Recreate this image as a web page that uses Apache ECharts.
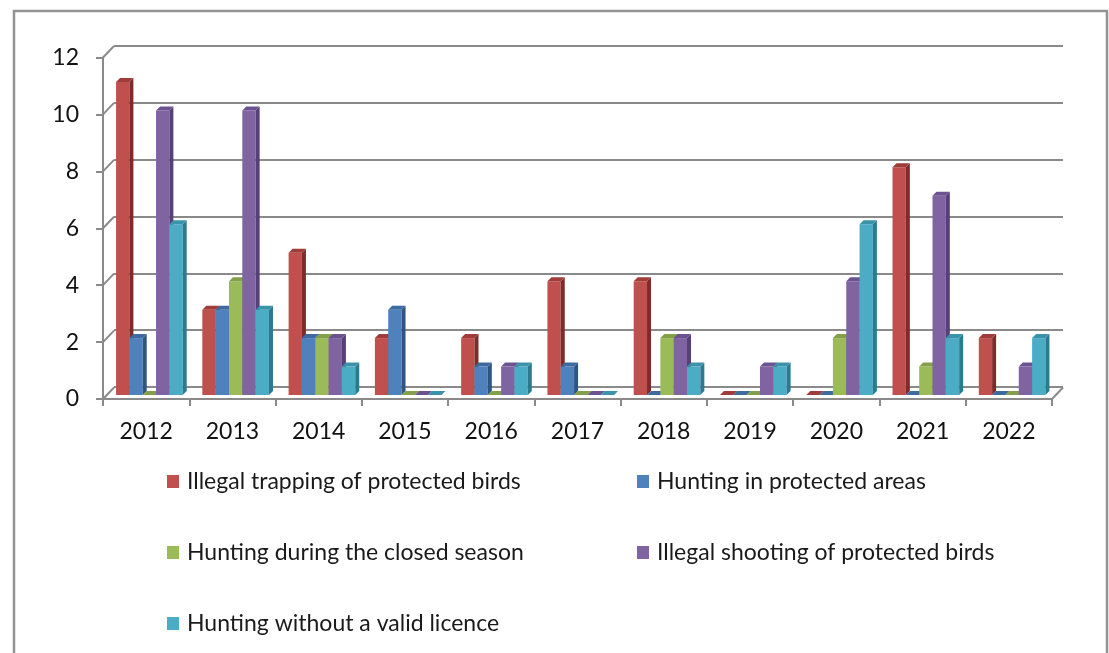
<!DOCTYPE html>
<html>
<head>
<meta charset="utf-8">
<title>Hunting offences 2012–2022</title>
<script src="https://cdn.jsdelivr.net/npm/echarts@6/dist/echarts.min.js"></script>
<style>
  html, body { margin: 0; padding: 0; background: #ffffff; }
  #chart { width: 1109px; height: 653px; }
</style>
</head>
<body>
<div id="chart"></div>
<script>
// Offence counts per year
const years = ['2012', '2013', '2014', '2015', '2016', '2017', '2018', '2019', '2020', '2021', '2022'];
const illegalTrapping   = [11, 3, 5, 2, 2, 4, 4, 0, 0, 8, 2];
const protectedAreas    = [2, 3, 2, 3, 1, 1, 0, 0, 0, 0, 0];
const closedSeason      = [0, 4, 2, 0, 0, 0, 2, 0, 2, 1, 0];
const illegalShooting   = [10, 10, 2, 0, 1, 0, 2, 1, 4, 7, 1];
const withoutLicence    = [6, 3, 1, 0, 1, 0, 1, 1, 6, 2, 2];
const yTicks = [0, 2, 4, 6, 8, 10, 12];

const seriesNames = [
  'Illegal trapping of protected birds',
  'Hunting in protected areas',
  'Hunting during the closed season',
  'Illegal shooting of protected birds',
  'Hunting without a valid licence'
];
const seriesValues = [illegalTrapping, protectedAreas, closedSeason, illegalShooting, withoutLicence];
const frontColors = ['#C0504D', '#4F81BD', '#9BBB59', '#8064A2', '#4BACC6'];
const sideColors  = ['#7E2C2A', '#2F5583', '#68823A', '#55407A', '#2C7A8F'];
const topColors   = ['#A03C39', '#3D6A9F', '#83A049', '#6B5290', '#3A93AB'];

const FONT = 'Lato, "Liberation Sans", sans-serif';
const GRID_GRAY = '#8A8A8A';
const WALL_DX = 11, WALL_DY = -11.5;   // offset of the back wall from the front axes
const BAR_DEPTH = 4;                    // visible depth of each column

const yMax = yTicks[yTicks.length - 1];
const yStep = yTicks[1] - yTicks[0];

function columnRenderer(seriesIdx) {
  return function (params, api) {
    const c = api.value(0);
    const v = api.value(1);
    const base = api.coord([c, 0]);
    const top = api.coord([c, v]);
    const band = api.size([1, 0])[0];
    const w = band * 0.1545;
    const x0 = base[0] - band * 0.395 + seriesIdx * w;
    const yt = top[1], yb = base[1], d = BAR_DEPTH;
    const children = [];
    if (yb - yt > 0.5) {
      children.push({
        type: 'rect',
        shape: { x: x0, y: yt, width: w, height: yb - yt },
        style: { fill: frontColors[seriesIdx] }
      });
      children.push({
        type: 'polygon',
        shape: { points: [[x0 + w, yt], [x0 + w + d, yt - d], [x0 + w + d, yb - d], [x0 + w, yb]] },
        style: { fill: sideColors[seriesIdx] }
      });
    }
    children.push({
      type: 'polygon',
      shape: { points: [[x0, yt], [x0 + d, yt - d], [x0 + w + d, yt - d], [x0 + w, yt]] },
      style: { fill: topColors[seriesIdx] }
    });
    return { type: 'group', children: children };
  };
}

// Short diagonals joining the front value axis to the back-wall gridlines,
// plus the right edge of the floor.
function wallEdgeRenderer(params, api) {
  const cs = params.coordSys;
  const v = api.value(1);
  const y = api.coord([0, v])[1];
  const style = { stroke: GRID_GRAY, lineWidth: 2 };
  const children = [{
    type: 'line',
    shape: { x1: cs.x, y1: y, x2: cs.x + WALL_DX, y2: y + WALL_DY },
    style: style
  }];
  if (v === 0) {
    children.push({
      type: 'line',
      shape: { x1: cs.x + cs.width, y1: y, x2: cs.x + cs.width + WALL_DX, y2: y + WALL_DY },
      style: style
    });
  }
  return { type: 'group', children: children };
}

const legendPos = [
  { left: 167, top: 470 },
  { left: 637, top: 470 },
  { left: 167, top: 541 },
  { left: 637, top: 541 },
  { left: 167, top: 612 }
];

const chart = echarts.init(document.getElementById('chart'), null, { renderer: 'canvas' });

const option = {
  backgroundColor: '#ffffff',
  animation: false,
  graphic: [{
    type: 'rect',
    shape: { x: 14, y: 11, width: 1093, height: 680 },
    style: { fill: 'none', stroke: '#939393', lineWidth: 2.5 },
    z: 0
  }],
  legend: seriesNames.map((name, i) => ({
    data: [name],
    left: legendPos[i].left,
    top: legendPos[i].top,
    padding: 0,
    itemWidth: 12,
    itemHeight: 13,
    selectedMode: false,
    icon: 'rect',
    textStyle: { fontFamily: FONT, fontSize: 23, lineHeight: 23, color: '#1a1a1a', padding: [0, 0, 0, 3] }
  })),
  grid: [
    // back wall
    { left: 114, top: 46, width: 949, height: 341 },
    // front axes
    { left: 103, top: 57.5, width: 949, height: 341.5 },
    // columns, set half-way into the depth
    { left: 107, top: 53.5, width: 949, height: 341.5 }
  ],
  xAxis: [
    { gridIndex: 0, type: 'category', data: years, show: false },
    {
      gridIndex: 1, type: 'category', data: years,
      axisLine: { show: true, lineStyle: { color: GRID_GRAY, width: 2 } },
      axisTick: { show: true, length: 7, alignWithLabel: false, lineStyle: { color: GRID_GRAY, width: 2 } },
      axisLabel: { fontFamily: FONT, fontSize: 23, color: '#111111', margin: 21 },
      splitLine: { show: false }
    },
    { gridIndex: 2, type: 'category', data: years, show: false }
  ],
  yAxis: [
    {
      gridIndex: 0, type: 'value', min: 0, max: yMax, interval: yStep,
      axisLine: { show: false }, axisTick: { show: false }, axisLabel: { show: false },
      splitLine: { show: true, lineStyle: { color: GRID_GRAY, width: 2 } }
    },
    {
      gridIndex: 1, type: 'value', min: 0, max: yMax, interval: yStep,
      axisLine: { show: true, lineStyle: { color: GRID_GRAY, width: 2 } },
      axisTick: { show: true, length: 7, lineStyle: { color: GRID_GRAY, width: 2 } },
      axisLabel: { fontFamily: FONT, fontSize: 23, color: '#111111', margin: 24 },
      splitLine: { show: false }
    },
    { gridIndex: 2, type: 'value', min: 0, max: yMax, interval: yStep, show: false }
  ],
  series: [
    {
      type: 'custom',
      name: 'wall-edges',
      xAxisIndex: 1, yAxisIndex: 1,
      data: yTicks.map(t => [0, t]),
      renderItem: wallEdgeRenderer,
      clip: false,
      silent: true,
      z: 1
    }
  ].concat(seriesNames.map((name, i) => ({
    type: 'custom',
    name: name,
    xAxisIndex: 2, yAxisIndex: 2,
    itemStyle: { color: frontColors[i] },
    data: seriesValues[i].map((v, c) => [c, v]),
    renderItem: columnRenderer(i),
    clip: false,
    z: 3
  })))
};

chart.setOption(option);
</script>
</body>
</html>
